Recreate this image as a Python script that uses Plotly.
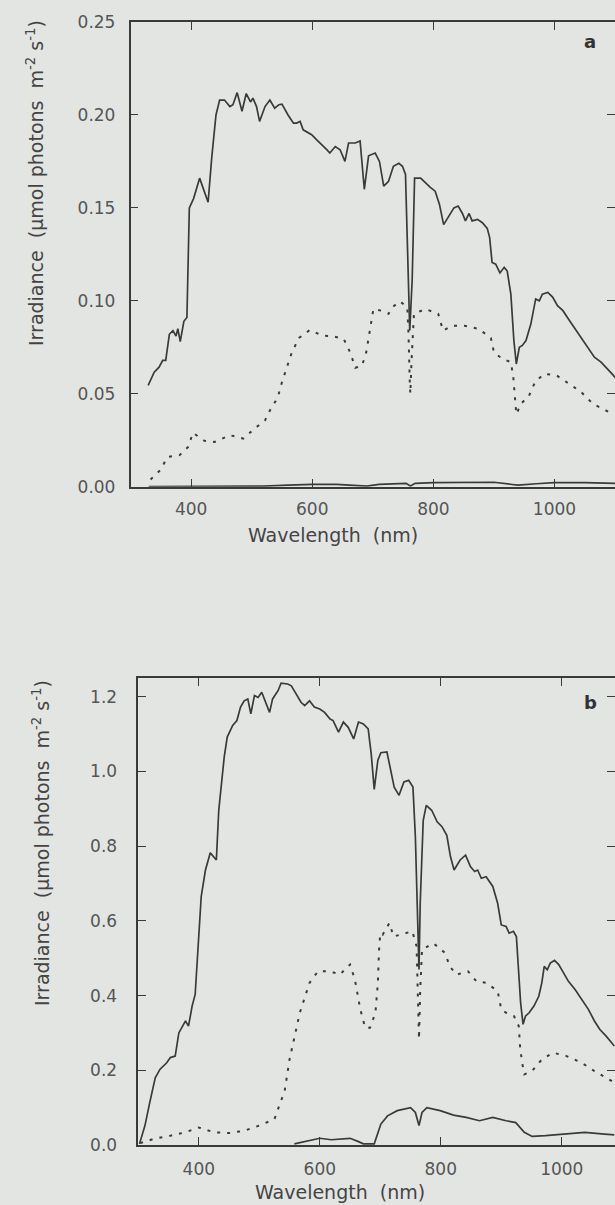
import plotly.graph_objects as go

# ---------------- Panel a data ----------------
wl_a_top = [329,339,347,353,358,364,370,375,378,382,388,393,397,404,414,422,428,434,441,447,455,464,469,476,484,491,498,502,508,513,522,530,538,545,550,560,569,574,580,585,591,599,607,616,624,629,638,646,654,660,671,679,686,693,704,711,718,726,734,743,749,754,758,761,765,769,779,787,795,803,810,817,826,834,841,848,853,859,864,873,881,889,893,897,903,910,917,922,928,933,937,942,947,953,961,969,975,980,989,997,1005,1014,1025,1036,1047,1058,1066,1077,1088,1097,1102]
irr_a_top = [0.0545,0.0616,0.0643,0.068,0.068,0.082,0.084,0.081,0.085,0.078,0.089,0.091,0.150,0.155,0.166,0.159,0.153,0.177,0.200,0.208,0.208,0.2045,0.2055,0.212,0.202,0.2115,0.207,0.209,0.2045,0.1965,0.2045,0.208,0.2036,0.2055,0.2058,0.200,0.1956,0.1956,0.1965,0.192,0.191,0.1894,0.1867,0.184,0.1813,0.1795,0.183,0.1813,0.175,0.1849,0.1849,0.186,0.160,0.178,0.1795,0.175,0.1617,0.1643,0.1724,0.174,0.1724,0.168,0.111,0.084,0.111,0.166,0.166,0.1634,0.161,0.159,0.152,0.141,0.1456,0.150,0.151,0.147,0.143,0.147,0.143,0.1438,0.142,0.139,0.134,0.1206,0.1197,0.115,0.118,0.116,0.1036,0.0786,0.066,0.075,0.076,0.0786,0.0875,0.101,0.100,0.1036,0.1045,0.102,0.0974,0.0947,0.0893,0.084,0.0786,0.0732,0.0697,0.067,0.0634,0.060,0.058]

wl_a_dot = [333,349,361,381,395,403,422,439,464,486,505,522,530,543,550,558,566,578,596,616,633,652,663,671,682,689,693,698,701,714,726,732,745,757,759,761,762,764,768,787,808,816,831,851,875,895,900,914,928,932,935,937,945,958,968,983,1003,1025,1044,1063,1085,1097]
irr_a_dot = [0.0039,0.0089,0.016,0.017,0.0214,0.029,0.0247,0.0241,0.0277,0.0259,0.0313,0.0357,0.041,0.048,0.0563,0.0643,0.072,0.080,0.0843,0.0813,0.081,0.0795,0.072,0.064,0.065,0.072,0.080,0.0884,0.0956,0.0947,0.093,0.0965,0.0997,0.0965,0.082,0.057,0.050,0.068,0.093,0.0956,0.093,0.084,0.0866,0.0866,0.0849,0.080,0.0723,0.0688,0.067,0.059,0.0464,0.039,0.0447,0.049,0.0563,0.0607,0.060,0.0554,0.051,0.0447,0.041,0.039]

wl_a_low = [330,450,520,560,600,640,670,690,710,740,755,762,770,800,850,900,930,940,970,1000,1050,1100]
irr_a_low = [0.0,0.0,0.0003,0.0008,0.0013,0.0012,0.0008,0.0003,0.0012,0.0018,0.0018,0.0004,0.0018,0.0022,0.0024,0.0024,0.0012,0.0008,0.0016,0.0022,0.0022,0.0018]

# ---------------- Panel b data ----------------
wl_b_top = [302,311,319,328,336,347,353,361,367,372,378,383,389,394,400,404,411,419,429,433,442,447,456,463,469,475,481,486,492,498,504,511,517,522,531,536,547,553,561,569,575,583,591,600,608,617,622,631,639,647,656,664,672,680,685,690,696,701,711,717,723,731,739,747,754,758,761,764,766,771,776,785,794,802,810,816,822,832,841,849,856,861,867,875,886,894,900,908,913,920,925,928,932,936,940,946,954,962,967,971,976,981,988,995,1003,1011,1022,1033,1044,1054,1063,1073,1087]
irr_b_top = [0.003,0.052,0.114,0.180,0.203,0.220,0.234,0.238,0.300,0.314,0.332,0.318,0.372,0.403,0.558,0.665,0.736,0.782,0.763,0.896,1.038,1.092,1.123,1.136,1.172,1.189,1.194,1.154,1.203,1.198,1.212,1.180,1.158,1.194,1.216,1.236,1.234,1.229,1.207,1.185,1.176,1.189,1.172,1.167,1.158,1.140,1.136,1.105,1.132,1.118,1.087,1.132,1.127,1.114,1.047,0.952,1.030,1.050,1.052,1.003,0.958,0.936,0.972,0.976,0.958,0.825,0.603,0.470,0.647,0.869,0.909,0.896,0.865,0.852,0.829,0.772,0.736,0.763,0.776,0.745,0.732,0.736,0.714,0.718,0.692,0.647,0.589,0.585,0.567,0.572,0.558,0.469,0.380,0.323,0.345,0.354,0.372,0.398,0.434,0.478,0.469,0.487,0.494,0.483,0.460,0.438,0.416,0.389,0.363,0.332,0.309,0.292,0.265]

wl_b_dot = [303,325,353,378,400,425,450,475,500,525,533,542,550,556,561,567,575,583,597,617,633,650,658,667,675,683,692,696,698,700,704,715,722,734,742,753,760,762,764,766,769,788,807,815,826,845,859,875,894,900,908,921,929,931,934,938,951,967,986,1008,1033,1054,1076,1087]
irr_b_dot = [0.005,0.016,0.025,0.034,0.047,0.034,0.032,0.038,0.052,0.069,0.105,0.145,0.229,0.274,0.309,0.354,0.394,0.434,0.465,0.465,0.456,0.483,0.443,0.363,0.314,0.314,0.354,0.434,0.523,0.567,0.563,0.594,0.558,0.563,0.567,0.572,0.532,0.425,0.283,0.416,0.523,0.540,0.514,0.478,0.456,0.465,0.438,0.434,0.412,0.363,0.354,0.345,0.318,0.265,0.225,0.189,0.198,0.229,0.247,0.238,0.220,0.198,0.176,0.167]

wl_b_low = [558,575,600,619,650,664,672,690,701,712,728,750,758,764,769,777,799,821,842,864,886,908,924,938,951,973,1005,1038,1071,1087]
irr_b_low = [0.003,0.009,0.018,0.014,0.018,0.009,0.003,0.003,0.056,0.078,0.092,0.100,0.087,0.052,0.087,0.100,0.092,0.080,0.074,0.065,0.074,0.065,0.060,0.034,0.023,0.025,0.029,0.034,0.029,0.027]

x_ticks = [400, 600, 800, 1000]
y_ticks_a = [0, 0.05, 0.10, 0.15, 0.20, 0.25]
y_ticks_b = [0, 0.2, 0.4, 0.6, 0.8, 1.0, 1.2]
x_title = "Wavelength  (nm)"
y_title = "Irradiance  (μmol photons  m<sup>-2</sup> s<sup>-1</sup>)"

# ---------------- Styling ----------------
W, H = 615, 1205
BG = "#e3e5e3"
LINE = "#3a3a3a"
TXT = "#555555"
FONT = "DejaVu Sans"
solid = dict(color=LINE, width=1.7)
dotted = dict(color=LINE, width=2, dash="3px,7px")

def px_x(p):
    return p / W

def px_y(p):
    return 1 - p / H

fig = go.Figure()
fig.add_trace(go.Scatter(x=wl_a_top, y=irr_a_top, mode="lines", line=solid, xaxis="x", yaxis="y"))
fig.add_trace(go.Scatter(x=wl_a_dot, y=irr_a_dot, mode="lines", line=dotted, xaxis="x", yaxis="y"))
fig.add_trace(go.Scatter(x=wl_a_low, y=irr_a_low, mode="lines", line=solid, xaxis="x", yaxis="y"))
fig.add_trace(go.Scatter(x=wl_b_top, y=irr_b_top, mode="lines", line=solid, xaxis="x2", yaxis="y2"))
fig.add_trace(go.Scatter(x=wl_b_dot, y=irr_b_dot, mode="lines", line=dotted, xaxis="x2", yaxis="y2"))
fig.add_trace(go.Scatter(x=wl_b_low, y=irr_b_low, mode="lines", line=solid, xaxis="x2", yaxis="y2"))

axis_common = dict(
    showline=True, linecolor=LINE, linewidth=1.5, mirror="allticks",
    ticks="inside", ticklen=8, tickwidth=1.3, tickcolor=LINE,
    showgrid=False, zeroline=False, automargin=False,
    tickfont=dict(family=FONT, size=17, color=TXT),
)

fig.update_layout(
    width=W, height=H,
    margin=dict(l=0, r=0, t=0, b=0, autoexpand=False),
    paper_bgcolor=BG, plot_bgcolor=BG,
    showlegend=False,
    xaxis=dict(axis_common, domain=[px_x(130.6), 1.0], range=[300, 1100],
               tickvals=x_ticks, anchor="y", ticklabelstandoff=6),
    yaxis=dict(axis_common, domain=[px_y(486.7), px_y(22)], range=[0, 0.25],
               tickvals=y_ticks_a, tickformat=".2f",
               anchor="x", ticklabelstandoff=10),
    xaxis2=dict(axis_common, domain=[px_x(138.3), 1.0], range=[300, 1088],
                tickvals=x_ticks, anchor="y2", ticklabelstandoff=8),
    yaxis2=dict(axis_common, domain=[px_y(1145), px_y(678)], range=[0, 1.25],
                tickvals=y_ticks_b, tickformat=".1f",
                anchor="x2", ticklabelstandoff=16),
)

ann_font = dict(family=FONT, size=19, color="#444444")
fig.add_annotation(text=y_title, x=px_x(35), y=px_y(183), xref="paper", yref="paper",
                   textangle=-90, showarrow=False, font=ann_font,
                   xanchor="center", yanchor="middle")
fig.add_annotation(text=y_title, x=px_x(41), y=px_y(843), xref="paper", yref="paper",
                   textangle=-90, showarrow=False, font=ann_font,
                   xanchor="center", yanchor="middle")
fig.add_annotation(text=x_title, x=px_x(333), y=px_y(535), xref="paper", yref="paper",
                   showarrow=False, font=ann_font, xanchor="center", yanchor="middle")
fig.add_annotation(text=x_title, x=px_x(340), y=px_y(1192), xref="paper", yref="paper",
                   showarrow=False, font=ann_font, xanchor="center", yanchor="middle")
lab_font = dict(family=FONT, size=18, color="#333333")
fig.add_annotation(text="<b>a</b>", x=px_x(590), y=px_y(42), xref="paper", yref="paper",
                   showarrow=False, font=lab_font, xanchor="center", yanchor="middle")
fig.add_annotation(text="<b>b</b>", x=px_x(590), y=px_y(702), xref="paper", yref="paper",
                   showarrow=False, font=lab_font, xanchor="center", yanchor="middle")

fig.write_html(
    "out.html",
    config={"displayModeBar": False},
    post_script="document.body.style.margin='0';document.body.style.background='" + BG + "';",
)
